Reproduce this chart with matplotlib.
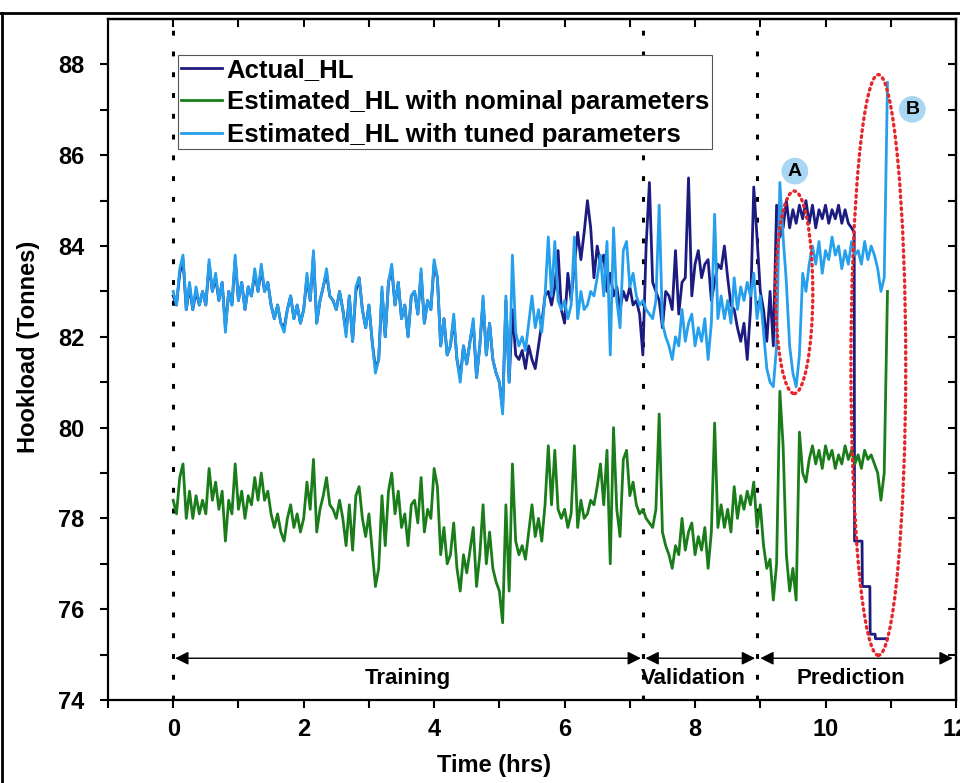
import numpy as np
import matplotlib.pyplot as plt
from matplotlib.patches import Ellipse
from matplotlib.lines import Line2D

plt.rcParams['font.family'] = ['Liberation Sans', 'DejaVu Sans']
plt.rcParams['font.weight'] = 'bold'

# sampling step of the hookload series (hrs)
STEP = 0.05

# Estimated HL with tuned parameters (0 .. 10.95 h)
tuned_hl = [
    83.0, 82.7, 83.5, 83.8, 82.6, 83.2, 82.6, 83.1, 82.7, 83.0,
    82.7, 83.7, 83.0, 83.4, 82.8, 83.2, 82.1, 83.0, 82.7, 83.8,
    82.8, 83.2, 82.6, 83.1, 82.9, 83.5, 83.0, 83.6, 83.0, 83.2,
    82.7, 82.4, 82.7, 82.3, 82.1, 82.6, 82.9, 82.4, 82.7, 82.3,
    82.6, 83.4, 82.8, 83.9, 82.3, 82.8, 83.1, 83.5, 82.9, 82.8,
    82.6, 83.0, 82.6, 82.0, 82.9, 81.9, 83.1, 83.3, 82.6, 82.2,
    82.7, 81.9, 81.2, 81.5, 83.1, 82.0, 83.2, 83.6, 82.7, 83.2,
    82.4, 82.7, 82.0, 82.9, 83.0, 82.5, 83.5, 82.3, 82.8, 82.6,
    83.7, 83.3, 81.8, 82.4, 81.6, 81.8, 82.5, 81.5, 81.0, 81.8,
    81.4, 81.9, 82.4, 81.1, 81.8, 82.9, 81.6, 82.3, 81.5, 81.2,
    81.0, 80.3, 82.9, 81.0, 83.8, 82.1, 81.8, 82.0, 81.7, 82.3,
    82.9, 82.2, 82.6, 82.1, 82.9, 84.2, 82.9, 84.1, 82.8, 82.6,
    82.8, 82.4, 82.7, 84.2, 82.4, 83.0, 82.6, 82.7, 83.0, 82.9,
    83.3, 83.8, 82.9, 84.1, 81.6, 84.4, 82.8, 82.2, 83.9, 84.1,
    83.1, 83.4, 82.9, 82.7, 82.8, 82.6, 82.5, 82.4, 82.8, 84.9,
    82.3, 82.0, 81.8, 81.5, 82.0, 81.8, 82.6, 81.9, 82.3, 82.5,
    81.8, 82.2, 81.9, 82.4, 81.5, 82.3, 84.7, 82.4, 82.9, 82.4,
    82.8, 82.3, 83.3, 82.6, 83.1, 82.8, 83.2, 82.9, 83.4, 82.4,
    82.9, 82.1, 81.3, 81.0, 80.9, 81.8, 85.4, 84.2, 83.2, 81.8,
    81.2, 80.9, 81.6, 83.4, 83.0, 83.6, 84.0, 83.6, 84.1, 83.4,
    83.9, 83.7, 84.2, 83.8, 84.0, 83.5, 83.9, 83.6, 84.1, 83.8,
    83.9, 83.6, 84.1, 83.7, 84.0, 83.8, 83.5, 83.0, 83.3, 87.6,
]

# Estimated HL with nominal parameters (0 .. 10.95 h)
nominal_hl = [
    78.4, 78.1, 78.9, 79.2, 78.0, 78.6, 78.0, 78.5, 78.1, 78.4,
    78.1, 79.1, 78.4, 78.8, 78.2, 78.6, 77.5, 78.4, 78.1, 79.2,
    78.2, 78.6, 78.0, 78.5, 78.3, 78.9, 78.4, 79.0, 78.4, 78.6,
    78.1, 77.8, 78.1, 77.7, 77.5, 78.0, 78.3, 77.8, 78.1, 77.7,
    78.0, 78.8, 78.2, 79.3, 77.7, 78.2, 78.5, 78.9, 78.3, 78.2,
    78.0, 78.4, 78.0, 77.4, 78.3, 77.3, 78.5, 78.7, 78.0, 77.6,
    78.1, 77.3, 76.5, 76.9, 78.5, 77.4, 78.6, 79.0, 78.1, 78.6,
    77.8, 78.1, 77.4, 78.3, 78.4, 77.9, 78.9, 77.7, 78.2, 78.0,
    79.1, 78.7, 77.2, 77.8, 77.0, 77.2, 77.9, 76.9, 76.4, 77.2,
    76.8, 77.3, 77.8, 76.5, 77.2, 78.3, 77.0, 77.7, 76.9, 76.6,
    76.4, 75.7, 78.3, 76.4, 79.2, 77.5, 77.2, 77.4, 77.1, 77.7,
    78.3, 77.6, 78.0, 77.5, 78.3, 79.6, 78.3, 79.5, 78.2, 78.0,
    78.2, 77.8, 78.1, 79.6, 77.8, 78.4, 78.0, 78.1, 78.4, 78.3,
    78.7, 79.2, 78.3, 79.5, 77.0, 80.0, 78.2, 77.6, 79.3, 79.5,
    78.5, 78.8, 78.3, 78.1, 78.2, 78.0, 77.9, 77.8, 78.2, 80.3,
    77.7, 77.4, 77.2, 76.9, 77.4, 77.2, 78.0, 77.3, 77.7, 77.9,
    77.2, 77.6, 77.3, 77.8, 76.9, 77.7, 80.1, 77.8, 78.3, 77.8,
    78.2, 77.7, 78.7, 78.0, 78.5, 78.2, 78.6, 78.3, 78.8, 77.8,
    78.3, 77.4, 76.9, 77.1, 76.2, 77.0, 80.8, 79.6, 77.2, 76.4,
    76.9, 76.2, 79.9, 79.0, 78.8, 79.3, 79.6, 79.2, 79.5, 79.1,
    79.6, 79.3, 79.5, 79.1, 79.4, 79.2, 79.6, 79.3, 79.5, 79.2,
    79.4, 79.1, 79.5, 79.3, 79.4, 79.2, 79.0, 78.4, 79.0, 83.0,
]

# Actual HL (0 .. 10.40 h on the same step)
actual_hl = [
    82.9, 82.7, 83.4, 83.7, 82.6, 83.1, 82.6, 83.0, 82.7, 83.0,
    82.7, 83.6, 83.0, 83.3, 82.8, 83.2, 82.2, 83.0, 82.7, 83.7,
    82.8, 83.2, 82.6, 83.1, 82.9, 83.4, 83.0, 83.5, 83.0, 83.2,
    82.7, 82.4, 82.7, 82.3, 82.2, 82.6, 82.9, 82.4, 82.7, 82.3,
    82.6, 83.3, 82.8, 83.8, 82.3, 82.8, 83.1, 83.4, 82.9, 82.8,
    82.6, 83.0, 82.6, 82.1, 82.9, 81.9, 83.0, 83.3, 82.6, 82.2,
    82.7, 81.9, 81.3, 81.5, 83.0, 82.0, 83.2, 83.5, 82.7, 83.2,
    82.4, 82.7, 82.0, 82.9, 83.0, 82.5, 83.4, 82.3, 82.8, 82.6,
    83.6, 83.3, 81.8, 82.4, 81.6, 81.8, 82.4, 81.5, 81.1, 81.8,
    81.4, 81.9, 82.3, 81.1, 81.8, 82.8, 81.6, 82.3, 81.5, 81.2,
    81.0, 80.4, 82.8, 81.0, 82.6, 81.6, 81.5, 81.7, 81.3, 81.8,
    81.5, 81.3, 81.8, 82.3, 82.9, 83.0, 82.7, 83.1, 83.9, 82.6,
    82.3, 83.4, 82.8, 83.6, 84.3, 83.7, 84.3, 85.0, 84.4, 83.3,
    84.0, 83.6, 83.8, 83.0, 83.4, 82.9, 83.1, 82.6, 83.0, 82.8,
    83.1, 82.7, 82.8, 82.5, 81.6, 84.0, 85.4, 83.2, 83.0, 82.8,
    82.2, 83.0, 82.9, 82.6, 83.9, 82.5, 83.2, 83.3, 85.5, 82.9,
    83.6, 83.9, 83.3, 83.6, 83.7, 82.8, 83.2, 83.6, 83.5, 84.0,
    83.3, 82.7, 82.6, 82.2, 81.9, 82.3, 81.5, 82.6, 85.3, 84.2,
    83.0, 82.6, 81.9, 83.0, 81.8, 84.9, 84.2, 84.4, 85.0, 84.4,
    84.8, 84.5, 84.9, 84.6, 85.0, 84.5, 84.9, 84.4, 84.8, 84.6,
    84.9, 84.5, 84.8, 84.6, 84.9, 84.5, 84.8, 84.5, 84.4,
]
# stepped drop of the actual hookload at the end of the record
actual_tail_t = [10.44, 10.445, 10.56, 10.565, 10.68, 10.685, 10.76, 10.765, 10.95]
actual_tail_hl = [84.3, 77.5, 77.5, 76.5, 76.5, 75.45, 75.45, 75.35, 75.35]

# phase boundaries (hrs) and labels
boundaries = [0.0, 7.2, 8.95]
phases = ['Training', 'Validation', 'Prediction']
phase_spans = [(0.03, 7.17), (7.24, 8.92), (9.0, 11.95)]
phase_label_x = [3.59, 7.97, 10.39]

series_labels = ['Actual_HL', 'Estimated_HL with nominal parameters',
                 'Estimated_HL with tuned parameters']
colors = ['#1c1c80', '#1a7d1a', '#26a0ec']


def main():
    fig = plt.figure(figsize=(9.6, 7.83), dpi=100)
    ax = fig.add_axes([0.1125, 0.106, 0.8833, 0.8697])

    t_est = np.arange(len(tuned_hl)) * STEP
    t_act = np.concatenate([np.arange(len(actual_hl)) * STEP, actual_tail_t])
    hl_act = np.concatenate([actual_hl, actual_tail_hl])

    ax.plot(t_act, hl_act, color=colors[0], lw=2.0, label=series_labels[0])
    ax.plot(t_est, nominal_hl, color=colors[1], lw=2.0, label=series_labels[1])
    ax.plot(t_est, tuned_hl, color=colors[2], lw=2.0, label=series_labels[2])

    # phase separators
    for b in boundaries:
        ax.axvline(b, color='black', lw=2.2, linestyle=(0, (1.6, 5.2)), zorder=1)

    # phase arrows + labels
    for (x0, x1), name, lx in zip(phase_spans, phases, phase_label_x):
        ax.annotate('', xy=(x1, 74.92), xytext=(x0, 74.92),
                    arrowprops=dict(arrowstyle='<|-|>', color='black', lw=1.0,
                                    mutation_scale=20, shrinkA=0, shrinkB=0))
        ax.text(lx, 74.48, name, ha='center', va='center', fontsize=16,
                fontweight='bold')

    # highlighted regions
    for cx, cy, w, h in [(9.52, 82.98, 0.57, 4.46), (10.81, 81.38, 0.84, 12.79)]:
        e = Ellipse((cx, cy), w, h, fill=False, ec='#e5262b', lw=2.4,
                    linestyle=(0, (0.5, 1.3)), zorder=5)
        e.set_capstyle('round')
        ax.add_patch(e)
    for lbl, x, y in [('A', 9.53, 85.65), ('B', 11.33, 87.01)]:
        ax.text(x, y, lbl, ha='center', va='center', fontsize=14,
                fontweight='bold', zorder=6,
                bbox=dict(boxstyle='circle,pad=0.25', fc='#a9d7f3', ec='none'))

    ax.set_xlim(-1, 12)
    ax.set_ylim(74, 89)
    ax.set_xticks(np.arange(0, 13, 2))
    ax.set_xticks(np.arange(-1, 13, 1), minor=True)
    ax.set_yticks(np.arange(74, 89, 2))
    ax.set_yticks(np.arange(75, 89, 2), minor=True)
    ax.tick_params(axis='x', which='both', direction='out', length=6, width=1.5, pad=7)
    ax.tick_params(axis='y', which='both', direction='out', length=6, width=1.5, pad=11)
    for lab in ax.get_xticklabels() + ax.get_yticklabels():
        lab.set_fontweight('bold')
        lab.set_fontsize(17)

    top = ax.secondary_xaxis('top')
    top.set_xticks(np.arange(0, 13, 1))
    top.tick_params(direction='in', length=6, width=1.5, labeltop=False)
    right = ax.secondary_yaxis('right')
    right.set_yticks(np.arange(75, 89, 1))
    right.tick_params(direction='in', length=6, width=1.5, labelright=False)

    for sp in ax.spines.values():
        sp.set_linewidth(1.6)
    top.spines['top'].set_linewidth(1.6)
    right.spines['right'].set_linewidth(1.6)

    ax.set_xlabel('Time (hrs)', fontsize=17, fontweight='bold')
    ax.set_ylabel('Hookload (Tonnes)', fontsize=17, fontweight='bold')
    ax.xaxis.set_label_coords(0.455, -0.08)
    ax.yaxis.set_label_coords(-0.080, 0.518)

    leg = ax.legend(loc='upper left', bbox_to_anchor=(0.0825, 0.947),
                    borderaxespad=0, fontsize=18.5, handlelength=1.6,
                    handletextpad=0.2, labelspacing=0.33, borderpad=0.1,
                    fancybox=False, framealpha=1)
    leg.get_frame().set_edgecolor('#555555')
    leg.get_frame().set_linewidth(0.8)
    for txt in leg.get_texts():
        txt.set_fontweight('bold')

    # outer frame of the picture
    fig.add_artist(Line2D([0.002, 0.002], [0.0, 0.983], color='black', lw=2))
    fig.add_artist(Line2D([0.0, 1.0], [0.983, 0.983], color='black', lw=2))

    fig.savefig('out.png', dpi=100)


if __name__ == "__main__":
    main()
